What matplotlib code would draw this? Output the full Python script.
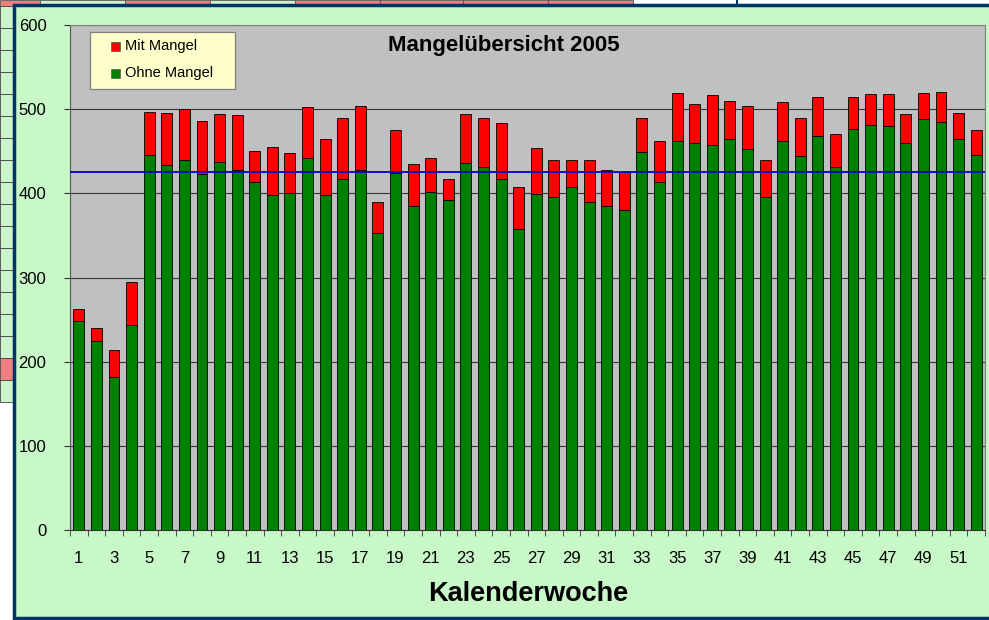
"""Mangelübersicht 2005 - gestapelte Säulen je Kalenderwoche."""

import numpy as np
import matplotlib

matplotlib.use("Agg")
from matplotlib import pyplot as plt
from matplotlib.patches import Rectangle

plt.rcParams["font.family"] = ["Liberation Sans", "DejaVu Sans"]

# Werte je Kalenderwoche (1..52)
wochen = list(range(1, 53))
ohne_mangel = [
    248, 224, 182, 243, 445, 434, 440, 423, 437, 428,
    414, 398, 400, 442, 398, 417, 428, 353, 424, 385,
    401, 392, 436, 431, 417, 358, 399, 396, 407, 390,
    385, 380, 449, 414, 462, 460, 458, 464, 453, 396,
    462, 444, 468, 431, 477, 481, 480, 460, 488, 485,
    464, 445,
]
mit_mangel = [
    14, 16, 32, 52, 52, 62, 60, 63, 57, 65,
    36, 57, 48, 60, 67, 72, 76, 37, 51, 50,
    41, 25, 58, 59, 66, 50, 55, 44, 33, 50,
    43, 45, 40, 48, 57, 46, 59, 46, 51, 44,
    46, 46, 47, 40, 38, 37, 38, 34, 31, 35,
    31, 30,
]
mittelwert = 425
y_ticks = [0, 100, 200, 300, 400, 500, 600]
x_labels = list(range(1, 53, 2))
legend_labels = ["Mit Mangel", "Ohne Mangel"]
legend_colors = ["#ff0000", "#008000"]

W, H = 989, 620
AX_L, AX_T, AX_R, AX_B = 70, 25, 985, 530
fig = plt.figure(figsize=(W / 100, H / 100), dpi=100, facecolor="white")


def px_rect(x0, y0, x1, y1, **kw):
    """Rectangle in pixel coordinates (origin top-left), drawn behind the axes."""
    r = Rectangle(
        (x0 / W, 1 - y1 / H), (x1 - x0) / W, (y1 - y0) / H,
        transform=fig.transFigure, zorder=-10, **kw,
    )
    fig.patches.append(r)
    return r


def ax_xy(px, py):
    """Pixel position -> axes fraction."""
    return (px - AX_L) / (AX_R - AX_L), (AX_B - py) / (AX_B - AX_T)


# Spreadsheet behind the chart
cell_green = "#ccf5cc"
cell_pink = "#f08080"
top_cells = [(0, 40, cell_pink), (40, 125, cell_green), (125, 210, cell_pink),
             (210, 295, cell_green), (295, 380, cell_pink), (380, 463, cell_pink),
             (463, 548, cell_pink), (548, 633, cell_pink)]
for x0, x1, c in top_cells:
    px_rect(x0, 0, x1, 6, facecolor=c, edgecolor="#555555", linewidth=0.6)
for y0 in range(6, 390, 22):
    c = cell_pink if 340 <= y0 < 360 else cell_green
    px_rect(0, y0, 14, y0 + 22, facecolor=c, edgecolor="#444444", linewidth=0.6)
px_rect(736, 0, 738, 6, facecolor="#003366", edgecolor="none")

# Chart area
px_rect(14, 5, 995, 618, facecolor="#c8f8c8", edgecolor="#003366", linewidth=2.5)

ax = fig.add_axes([AX_L / W, 1 - AX_B / H, (AX_R - AX_L) / W, (AX_B - AX_T) / H])
ax.set_facecolor("#c0c0c0")

x = np.array(wochen)
ax.bar(x, ohne_mangel, width=0.62, color="#008000", edgecolor="black",
       linewidth=0.6, zorder=3)
ax.bar(x, mit_mangel, bottom=ohne_mangel, width=0.62, color="#ff0000",
       edgecolor="black", linewidth=0.6, zorder=3)
ax.axhline(mittelwert, color="#0000cc", linewidth=1.3, zorder=4)

ax.set_xlim(0.5, 52.5)
ax.set_ylim(0, 600)
ax.set_yticks(y_ticks)
ax.yaxis.grid(True, color="#333333", linewidth=0.8, zorder=1)
ax.set_axisbelow(True)
ax.set_xticks(x_labels)
ax.set_xticks(np.arange(0.5, 53, 1), minor=True)
ax.tick_params(axis="x", which="major", length=0, pad=15, labelsize=12)
ax.tick_params(axis="x", which="minor", length=4, direction="out", color="#333333")
ax.tick_params(axis="y", length=4, direction="out", labelsize=12, pad=13, color="#333333")
for s in ["top", "right"]:
    ax.spines[s].set_color("#808080")
    ax.spines[s].set_linewidth(0.8)
ax.spines["left"].set_color("#555555")
ax.spines["bottom"].set_color("#333333")

tx, ty = ax_xy(504, 45)
ax.text(tx, ty, "Mangelübersicht 2005", transform=ax.transAxes,
        ha="center", va="center", fontsize=16, fontweight="bold")

# Legend box drawn by hand (Excel style)
lx0, ly0 = ax_xy(90, 89)
lx1, ly1 = ax_xy(235, 32)
ax.add_patch(Rectangle((lx0, ly0), lx1 - lx0, ly1 - ly0, transform=ax.transAxes,
                       facecolor="#ffffcc", edgecolor="#808080", linewidth=0.9,
                       zorder=5))
for label, color, py in zip(legend_labels, legend_colors, [46, 73]):
    mx0, my0 = ax_xy(111, py + 5)
    mx1, my1 = ax_xy(120, py - 4)
    ax.add_patch(Rectangle((mx0, my0), mx1 - mx0, my1 - my0, transform=ax.transAxes,
                           facecolor=color, edgecolor="#555555", linewidth=0.5,
                           zorder=6))
    txx, tyy = ax_xy(125, py)
    ax.text(txx, tyy, label, transform=ax.transAxes, ha="left", va="center",
            fontsize=10.5, zorder=6)

fig.text(528 / W, 1 - 594 / H, "Kalenderwoche", ha="center", va="center",
         fontsize=19.5, fontweight="bold")

fig.savefig("out.png", dpi=100, facecolor=fig.get_facecolor())
